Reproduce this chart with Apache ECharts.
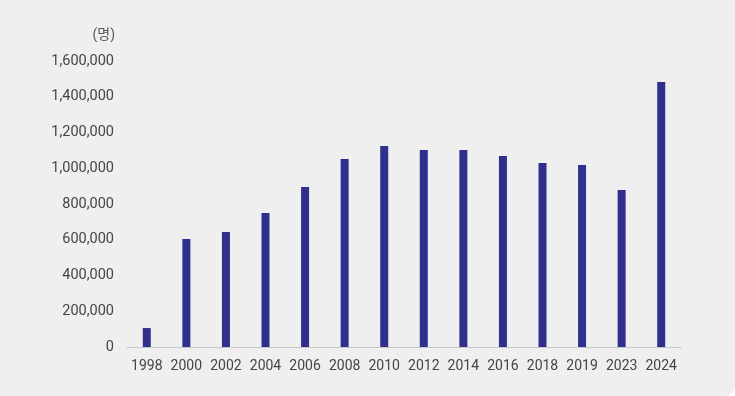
<!DOCTYPE html>
<html><head><meta charset="utf-8">
<script src="https://cdn.jsdelivr.net/npm/echarts@6/dist/echarts.min.js"></script>
<style>
html,body{margin:0;padding:0;background:#ffffff;}
#c{width:735px;height:396px;background:#efefef;border-radius:0 0 10px 0;}
</style></head>
<body><div id="c"></div>
<script>
const categories = ['1998','2000','2002','2004','2006','2008','2010','2012','2014','2016','2018','2019','2023','2024'];
const values = [106000, 604000, 643000, 750000, 895000, 1052000, 1124000, 1102000, 1102000, 1068000, 1029000, 1018000, 878000, 1483000];
const unitLabel = '(명)';

const chart = echarts.init(document.getElementById('c'), null, {renderer:'canvas'});
chart.setOption({
  backgroundColor: 'transparent',
  animation: false,
  textStyle: {fontFamily: 'Roboto, "Noto Sans CJK KR", sans-serif'},
  grid: {left: 127, right: 54, top: 61, bottom: 49},
  xAxis: {
    type: 'category',
    data: categories,
    axisLine: {lineStyle: {color: '#c6c6c6', width: 1}},
    axisTick: {show: false},
    axisLabel: {color: '#454545', fontSize: 14, margin: 13, interval: 0, hideOverlap: false}
  },
  yAxis: {
    type: 'value',
    min: 0, max: 1600000, interval: 200000,
    name: unitLabel,
    nameLocation: 'end',
    nameGap: 19,
    nameTextStyle: {color: '#595959', fontSize: 14, align: 'right', padding: [0, 12, 0, 0]},
    axisLine: {show: false},
    axisTick: {show: false},
    splitLine: {show: false},
    axisLabel: {
      color: '#454545', fontSize: 14.5, margin: 13,
      formatter: v => v.toLocaleString('en-US')
    }
  },
  series: [{
    type: 'bar',
    data: values,
    barWidth: 8,
    itemStyle: {color: '#2e308c'}
  }]
});
</script></body></html>
